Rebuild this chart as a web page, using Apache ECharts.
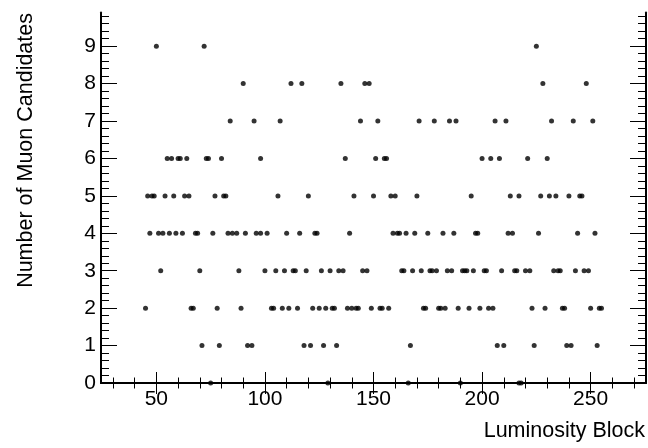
<!DOCTYPE html>
<html>
<head>
<meta charset="utf-8">
<script src="https://cdn.jsdelivr.net/npm/echarts@6/dist/echarts.min.js"></script>
<style>
html,body{margin:0;padding:0;background:#fff;}
#chart{width:648px;height:448px;}
</style>
</head>
<body>
<div id="chart"></div>
<script>
// Luminosity blocks per number of muon candidates
var blocks0 = [75, 129, 166, 190, 217, 218];
var blocks1 = [71, 79, 92, 94, 118, 121, 127, 133, 167, 207, 210, 224, 239, 241, 253];
var blocks2 = [45, 66, 67, 78, 89, 103, 104, 108, 111, 115, 122, 125, 128, 131, 132, 138, 140, 142, 143, 149, 153, 154, 157, 173, 174, 180, 181, 183, 189, 194, 199, 203, 205, 223, 229, 237, 238, 250, 254, 255];
var blocks3 = [52, 70, 88, 100, 105, 109, 113, 114, 119, 126, 130, 134, 136, 145, 147, 163, 164, 168, 172, 176, 177, 179, 184, 186, 191, 192, 193, 196, 201, 202, 209, 215, 216, 220, 222, 233, 235, 236, 243, 247, 249];
var blocks4 = [47, 51, 53, 56, 59, 62, 68, 69, 76, 83, 85, 87, 91, 96, 98, 101, 110, 116, 123, 124, 139, 159, 161, 162, 165, 169, 175, 182, 187, 197, 198, 212, 214, 226, 244, 252];
var blocks5 = [46, 48, 49, 54, 58, 63, 65, 77, 81, 82, 106, 120, 141, 150, 158, 160, 170, 195, 213, 217, 227, 231, 234, 240, 245, 246];
var blocks6 = [55, 57, 60, 61, 64, 73, 74, 80, 98, 137, 151, 155, 156, 200, 204, 208, 221, 230];
var blocks7 = [84, 95, 107, 144, 152, 171, 178, 185, 188, 206, 211, 232, 242, 251];
var blocks8 = [90, 112, 117, 135, 146, 148, 228, 248];
var blocks9 = [50, 72, 225];

var xMajorTicks = [50, 100, 150, 200, 250];
var xMinorTicks = [30, 40, 60, 70, 80, 90, 110, 120, 130, 140, 160, 170, 180, 190, 210, 220, 230, 240, 260, 270];
var yMajorTicks = [0, 1, 2, 3, 4, 5, 6, 7, 8, 9];

var xTitle = 'Luminosity Block';
var yTitle = 'Number of Muon Candidates';

var levels = [blocks0, blocks1, blocks2, blocks3, blocks4, blocks5, blocks6, blocks7, blocks8, blocks9];
var points = [];
levels.forEach(function (arr, n) {
  arr.forEach(function (lb) { points.push([lb, n]); });
});

var yMinorTicks = [];
for (var i = 0; i < 10; i++) {
  for (var k = 1; k < 5; k++) yMinorTicks.push(+(i + k * 0.2).toFixed(1));
}

var FONT = "'Liberation Sans', Arial, Helvetica, sans-serif";
var line = {show: true, lineStyle: {color: '#000', width: 2}};
function xAx(pos, ticks, len, labels, showLine) {
  return {
    type: 'value', position: pos, min: 24.5, max: 275.5,
    axisLine: showLine ? line : {show: false},
    splitLine: {show: false},
    axisTick: {show: true, inside: true, length: len, customValues: ticks, lineStyle: {color: '#000', width: 1}},
    axisLabel: labels ? {show: true, customValues: ticks, fontSize: 21, color: '#000', fontFamily: FONT, margin: 6} : {show: false}
  };
}
function yAx(pos, ticks, len, labels, showLine) {
  return {
    type: 'value', position: pos, min: 0, max: 9.9,
    axisLine: showLine ? line : {show: false},
    splitLine: {show: false},
    axisTick: {show: true, inside: true, length: len, customValues: ticks, lineStyle: {color: '#000', width: 1}},
    axisLabel: labels ? {show: true, customValues: ticks, fontSize: 21, color: '#000', fontFamily: FONT, margin: 5} : {show: false}
  };
}

var chart = echarts.init(document.getElementById('chart'), null, {renderer: 'canvas'});
chart.setOption({
  animation: false,
  backgroundColor: '#fff',
  grid: {left: 101, right: 2, top: 12.5, bottom: 65, containLabel: false},
  xAxis: [
    xAx('bottom', xMajorTicks, 11, true, true),
    xAx('bottom', xMinorTicks, 5.5, false, false),
    xAx('top', xMajorTicks, 11, false, true),
    xAx('top', xMinorTicks, 5.5, false, false)
  ],
  yAxis: [
    yAx('left', yMajorTicks, 16, true, true),
    yAx('left', yMinorTicks, 8, false, false),
    yAx('right', yMajorTicks, 16, false, true),
    yAx('right', yMinorTicks, 8, false, false)
  ],
  series: [{
    type: 'scatter',
    xAxisIndex: 0, yAxisIndex: 0,
    data: points,
    symbol: 'circle',
    symbolSize: 5,
    itemStyle: {color: '#000'},
    clip: false,
    z: 5
  }],
  graphic: [
    {type: 'text', x: 645, y: 431, style: {text: xTitle, align: 'right', verticalAlign: 'middle', fontSize: 21.5, fontFamily: FONT, fill: '#000'}},
    {type: 'text', x: 26, y: 13, rotation: Math.PI / 2, style: {text: yTitle, align: 'right', verticalAlign: 'middle', fontSize: 21.5, fontFamily: FONT, fill: '#000'}}
  ]
});
</script>
</body>
</html>
